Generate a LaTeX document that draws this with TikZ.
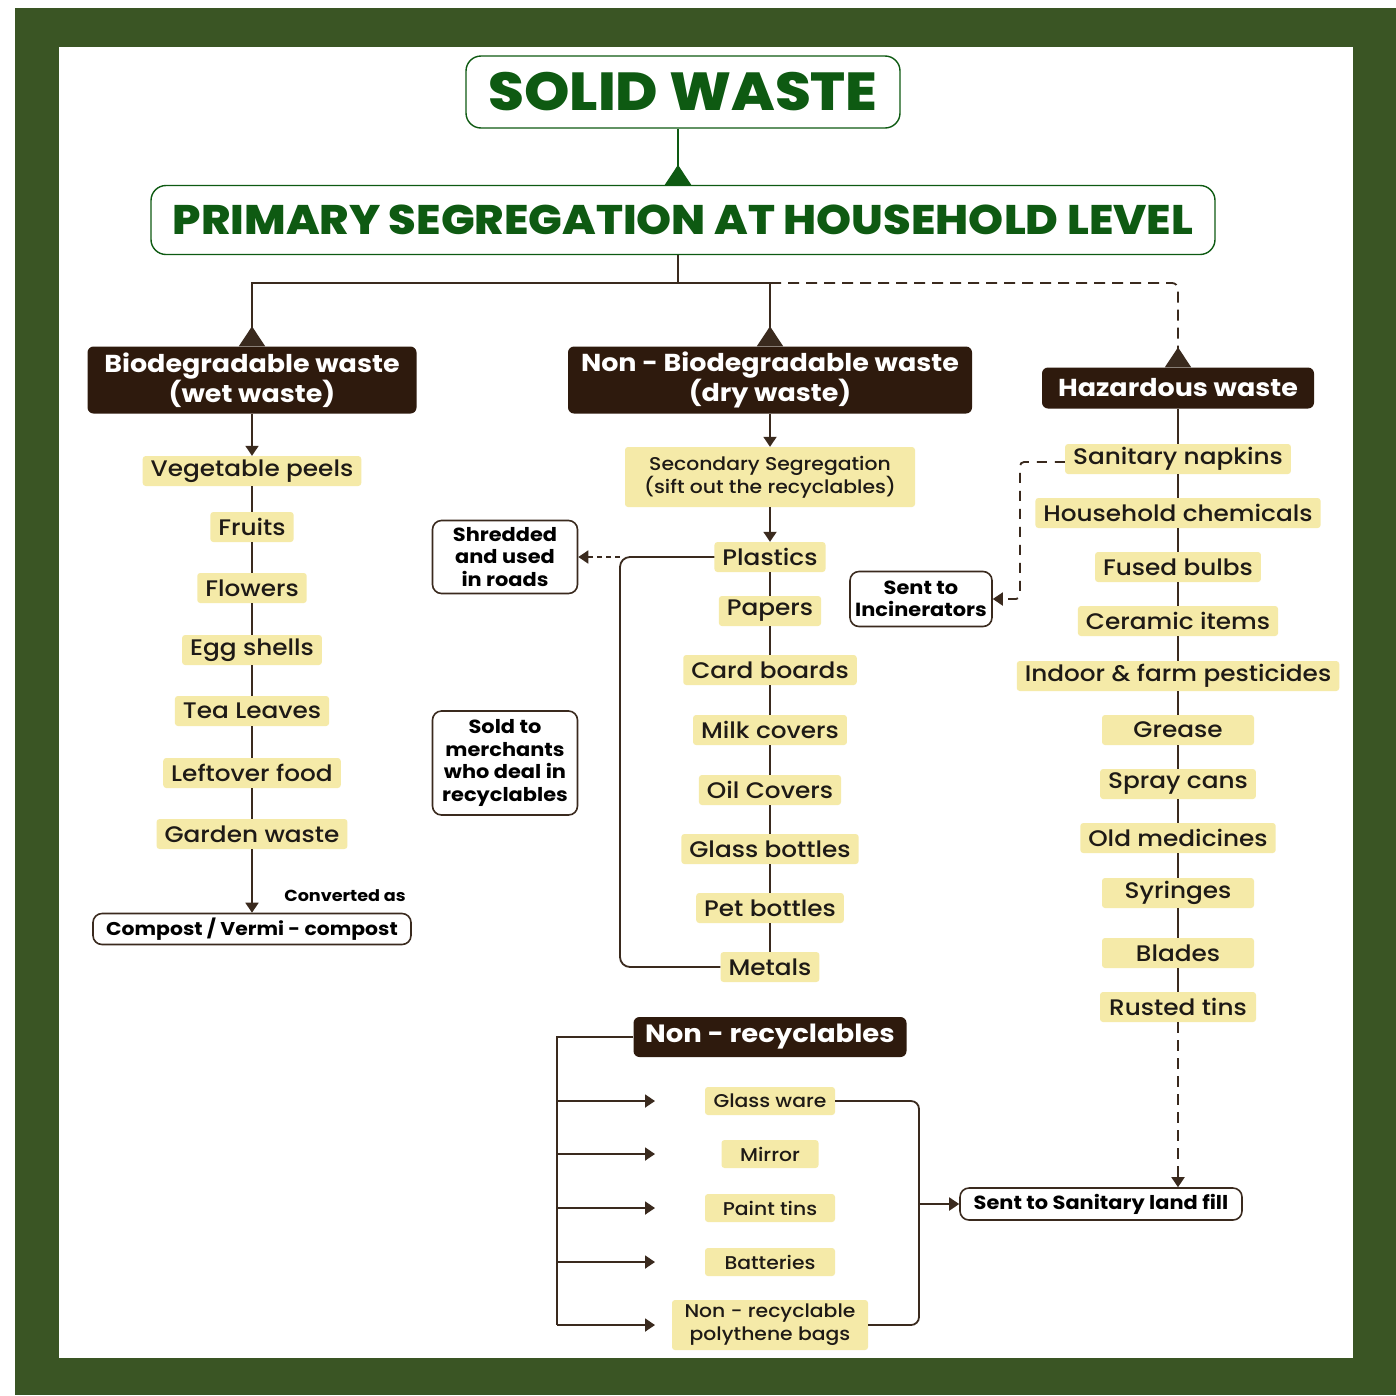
\documentclass[tikz,border=0pt]{standalone}
\usepackage{fontspec}
\setmainfont{Poppins}[UprightFont=* Medium, BoldFont=* Bold, FakeStretch=1.1]
\newfontfamily\heavyfont{Poppins}[UprightFont=* ExtraBold, FakeStretch=1.08]
\usetikzlibrary{positioning,arrows.meta}

\definecolor{framegreen}{HTML}{3A5524}
\definecolor{titlegreen}{HTML}{0E5A12}
\definecolor{headbrown}{HTML}{2E1A0D}
\definecolor{itemyellow}{HTML}{F5EAA8}
\definecolor{linebrown}{HTML}{3A2A1E}
\definecolor{textdark}{HTML}{1E1A16}

\tikzset{
  item/.style={fill=itemyellow, rounded corners=3pt, inner xsep=8pt, inner ysep=0pt,
    minimum height=30pt, text=textdark, font=\fontsize{22.5}{26}\selectfont},
  smallitem/.style={item, minimum height=28pt, font=\fontsize{18.5}{23}\selectfont},
  head/.style={fill=headbrown, text=white, rounded corners=6pt, align=center,
    font=\bfseries\fontsize{24.5}{29.5}\selectfont},
  note/.style={draw=linebrown, line width=1.6pt, fill=white, rounded corners=9pt,
    align=center, text=black, inner sep=2pt, font=\bfseries\fontsize{19}{22.5}\selectfont},
  titlebox/.style={draw=titlegreen, line width=1.4pt, fill=white, rounded corners=15pt,
    text=titlegreen},
  conn/.style={draw=linebrown, line width=1.8pt},
  flow/.style={conn, -{Triangle[width=13pt,length=10pt]}},
  stem/.style={conn, -{Triangle[reversed,width=26pt,length=20pt]}},
  dashconn/.style={conn, dash pattern=on 11pt off 7pt},
}

\begin{document}
\begin{tikzpicture}[x=1pt, y=-1pt]
  \useasboundingbox (0,0) rectangle (1396,1395);
  \fill[white] (0,0) rectangle (1396,1395);
  \fill[framegreen] (15,8) rectangle (1396,1395);
  \fill[white] (59,47) rectangle (1353,1358);

  % top
  \node[titlebox, minimum width=434pt, minimum height=72pt,
    font=\heavyfont\fontsize{53.5}{56}\selectfont] (solid) at (683,92) {SOLID WASTE};
  \node[titlebox, minimum width=1064pt, minimum height=69pt,
    font=\heavyfont\fontsize{41.3}{46}\selectfont] (primary) at (683,220) {PRIMARY SEGREGATION AT HOUSEHOLD LEVEL};
  \coordinate (split) at (678,283);
  \draw[stem, draw=titlegreen] (solid.south -| split) -- (primary.north -| split);

  \node[head, minimum width=329pt, minimum height=67pt] (bio) at (252,380) {Biodegradable waste\\(wet waste)};
  \node[head, minimum width=404pt, minimum height=67pt] (nonbio) at (770,380) {Non - Biodegradable waste\\(dry waste)};
  \node[head, minimum width=272pt, minimum height=41pt] (haz) at (1178,388) {Hazardous waste};

  \draw[conn] (primary.south -| split) -- (split);
  \draw[stem] (split) -| (bio.north);
  \draw[stem] (split) -| (nonbio.north);
  \draw[dashconn, rounded corners=6pt, -{Triangle[reversed,width=26pt,length=20pt]}]
    (split -| nonbio.north) -| (haz.north);

  % wet waste
  \node[item] (veg)      at (252,471) {Vegetable peels};
  \node[item] (fruits)   at (252,527) {Fruits};
  \node[item] (flowers)  at (252,588) {Flowers};
  \node[item] (egg)      at (252,650) {Egg shells};
  \node[item] (tea)      at (252,711) {Tea Leaves};
  \node[item] (leftover) at (252,773) {Leftover food};
  \node[item] (garden)   at (252,834) {Garden waste};
  \node[note, minimum width=318pt, minimum height=31pt,
    font=\bfseries\fontsize{18.5}{22}\selectfont] (compost) at (252,929) {Compost / Vermi - compost};
  \node[text=black, font=\bfseries\fontsize{16}{18}\selectfont] (conv) at (345,896) {Converted as};
  \draw[flow] (bio) -- (veg);
  \draw[conn]
  (veg) edge (fruits)
  (fruits) edge (flowers)
  (flowers) edge (egg)
  (egg) edge (tea)
  (tea) edge (leftover)
  (leftover) edge (garden);
  \draw[flow] (garden) -- (compost);

  % dry waste
  \node[item, minimum width=290pt, minimum height=60pt, align=center,
    font=\fontsize{18.5}{23}\selectfont] (secseg) at (770,477) {Secondary Segregation\\(sift out the recyclables)};
  \node[item] (plastics) at (770,557) {Plastics};
  \node[item] (papers)   at (770,611) {Papers};
  \node[item] (cardb)    at (770,670) {Card boards};
  \node[item] (milk)     at (770,730) {Milk covers};
  \node[item] (oil)      at (770,790) {Oil Covers};
  \node[item] (glassb)   at (770,849) {Glass bottles};
  \node[item] (pet)      at (770,908) {Pet bottles};
  \node[item] (metals)   at (770,967) {Metals};
  \node[note, minimum width=145pt, minimum height=73pt] (shred) at (505,557) {Shredded\\and used\\in roads};
  \node[note, minimum width=145pt, minimum height=104pt] (sold) at (505,763) {Sold to\\merchants\\who deal in\\recyclables};
  \draw[flow] (nonbio) -- (secseg);
  \draw[flow] (secseg) -- (plastics);
  \draw[conn]
  (plastics) edge (papers)
  (papers) edge (cardb)
  (cardb) edge (milk)
  (milk) edge (oil)
  (oil) edge (glassb)
  (glassb) edge (pet)
  (pet) edge (metals);
  \coordinate (drybend) at (620,557);
  \draw[conn, rounded corners=10pt] (plastics.west) -- (drybend) |- (metals.west);
  \draw[dashconn, dash pattern=on 5pt off 4pt, -{Triangle[width=13pt,length=10pt]}] (drybend) -- (shred.east);

  % hazardous
  \node[item] (sanit)     at (1178,459) {Sanitary napkins};
  \node[item] (household) at (1178,513) {Household chemicals};
  \node[item] (fused)     at (1178,567) {Fused bulbs};
  \node[item] (ceramic)   at (1178,621) {Ceramic items};
  \node[item] (indoor)    at (1178,676) {Indoor \& farm pesticides};
  \node[item, minimum width=152pt] (grease)  at (1178,730) {Grease};
  \node[item, minimum width=152pt] (spray)   at (1178,784) {Spray cans};
  \node[item] (oldmed)    at (1178,838) {Old medicines};
  \node[item, minimum width=152pt] (syringe) at (1178,893) {Syringes};
  \node[item, minimum width=152pt] (blades)  at (1178,953) {Blades};
  \node[item, minimum width=156pt] (rusted)  at (1178,1007) {Rusted tins};
  \node[note, minimum width=142pt, minimum height=55pt] (incin) at (921,599) {Sent to\\Incinerators};
  \draw[conn]
  (haz) edge (sanit)
  (sanit) edge (household)
  (household) edge (fused)
  (fused) edge (ceramic)
  (ceramic) edge (indoor)
  (indoor) edge (grease)
  (grease) edge (spray)
  (spray) edge (oldmed)
  (oldmed) edge (syringe)
  (syringe) edge (blades)
  (blades) edge (rusted);
  \coordinate (hazbend) at (1020,462);
  \draw[dashconn, dash pattern=on 10pt off 8pt, rounded corners=4pt, -{Triangle[width=13pt,length=10pt]}]
    (sanit.west |- hazbend) -- (hazbend) |- (incin.east);

  % non-recyclables
  \node[head, minimum width=273pt, minimum height=40pt, font=\bfseries\fontsize{25}{29}\selectfont] (nonrec) at (770,1037) {Non - recyclables};
  \node[smallitem, minimum width=130pt] (glass)   at (770,1101) {Glass ware};
  \node[smallitem, minimum width=97pt]  (mirror)  at (770,1154) {Mirror};
  \node[smallitem, minimum width=130pt] (paint)   at (770,1208) {Paint tins};
  \node[smallitem, minimum width=130pt] (battery) at (770,1262) {Batteries};
  \node[smallitem, minimum width=196pt, minimum height=50pt, align=center,
    font=\fontsize{18.5}{23}\selectfont] (poly) at (770,1325) {Non - recyclable\\polythene bags};
  \node[note, minimum width=282pt, minimum height=32pt] (landfill) at (1101,1204) {Sent to Sanitary land fill};
  \coordinate (nrleft) at (557,1037);
  \coordinate (nrtip) at (655,1037);
  \coordinate (nrright) at (919,1204);
  \draw[conn] (nonrec.west) -- (nrleft) -- (nrleft |- poly);
  \draw[flow] (nrleft |- glass) -- (nrtip |- glass);
  \draw[flow] (nrleft |- mirror) -- (nrtip |- mirror);
  \draw[flow] (nrleft |- paint) -- (nrtip |- paint);
  \draw[flow] (nrleft |- battery) -- (nrtip |- battery);
  \draw[flow] (nrleft |- poly) -- (nrtip |- poly);
  \draw[conn, rounded corners=8pt] (glass.east) -| (nrright) |- (poly.east);
  \draw[flow] (nrright) -- (landfill.west);
  \draw[dashconn, -{Triangle[width=13pt,length=10pt]}] (rusted) -- (rusted.south |- landfill.north);
\end{tikzpicture}
\end{document}
